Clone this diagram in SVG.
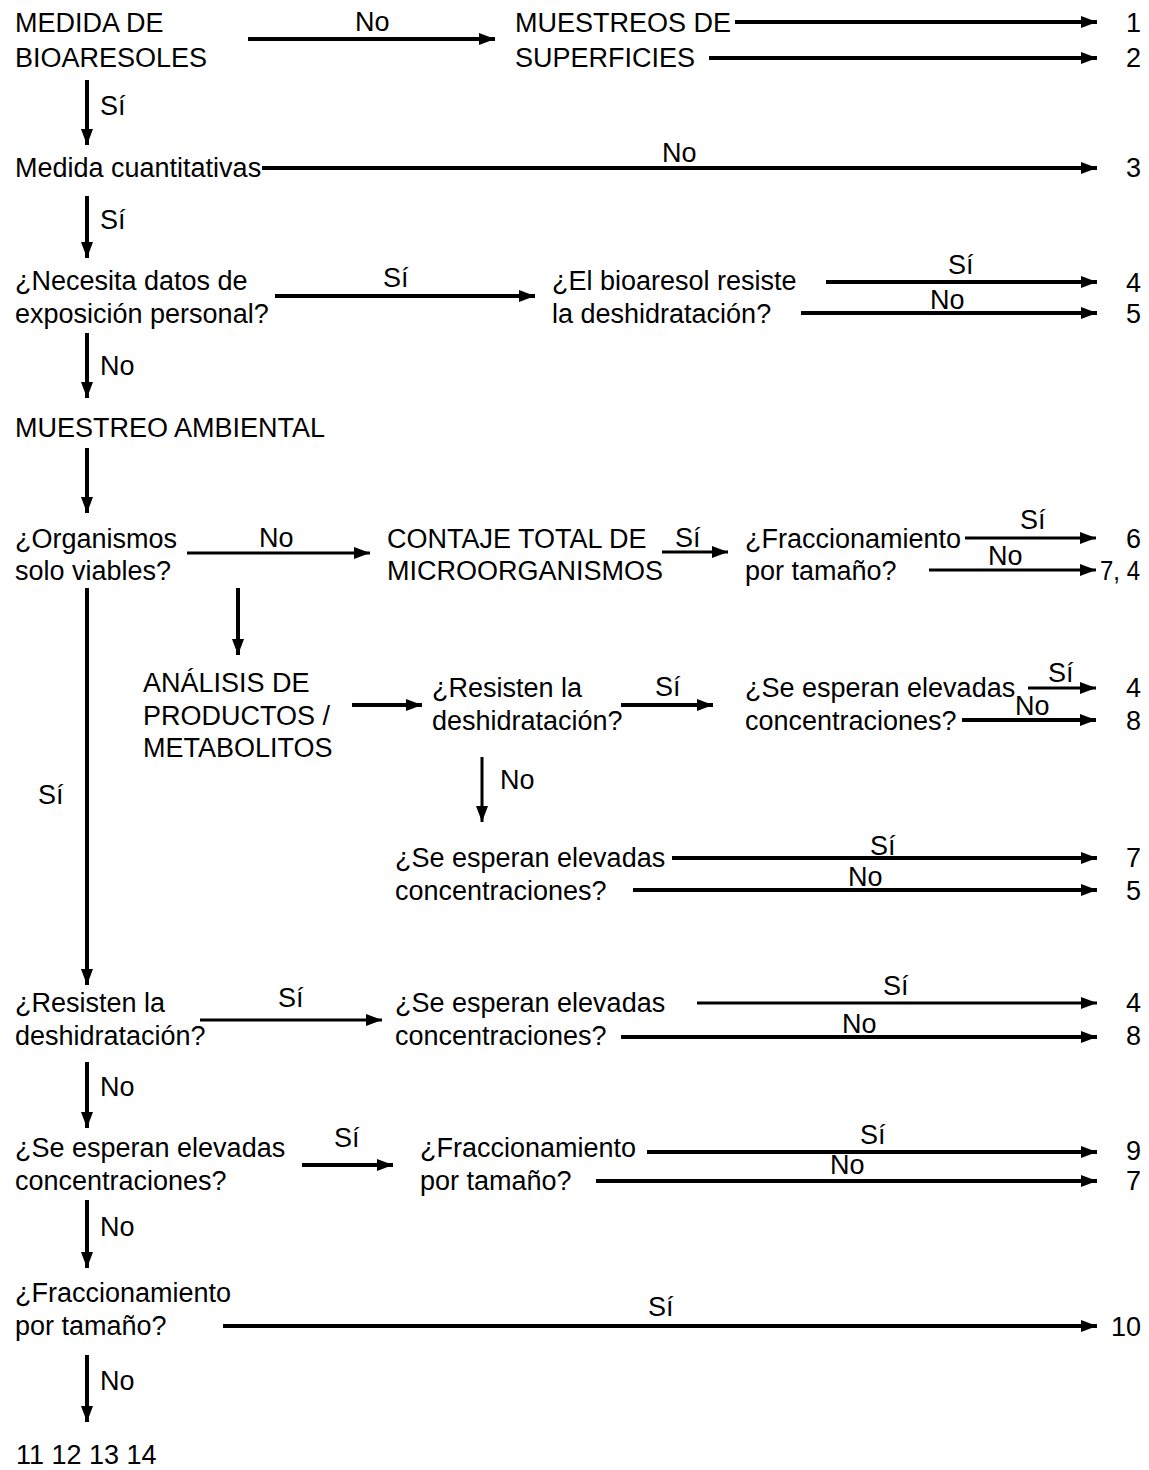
<svg xmlns="http://www.w3.org/2000/svg" width="1149" height="1470" viewBox="0 0 1149 1470">
<style>
text{font-family:"Liberation Sans",Arial,sans-serif;font-size:27px;fill:#000}
.n{text-anchor:end}
.c line{stroke:#000;stroke-width:4}
.c line.t{stroke-width:3}
</style>
<defs>
<marker id="a" viewBox="0 0 16 12" refX="16" refY="6" markerWidth="16" markerHeight="12" markerUnits="userSpaceOnUse" orient="auto"><path d="M0,0 L16,6 L0,12 z" fill="#000"/></marker>
</defs>
<rect width="1149" height="1470" fill="#fff"/>
<g id="n1"><text x="15" y="32">MEDIDA DE</text><text x="15" y="67">BIOARESOLES</text></g>
<g id="n2"><text x="515" y="32">MUESTREOS DE</text><text x="515" y="67">SUPERFICIES</text></g>
<g id="n3"><text x="15" y="177">Medida cuantitativas</text></g>
<g id="n4"><text x="15" y="290">¿Necesita datos de</text><text x="15" y="323">exposición personal?</text></g>
<g id="n5"><text x="552" y="290">¿El bioaresol resiste</text><text x="552" y="323">la deshidratación?</text></g>
<g id="n6"><text x="15" y="437">MUESTREO AMBIENTAL</text></g>
<g id="n7"><text x="15" y="548">¿Organismos</text><text x="15" y="580">solo viables?</text></g>
<g id="n8"><text x="387" y="548">CONTAJE TOTAL DE</text><text x="387" y="580">MICROORGANISMOS</text></g>
<g id="n9"><text x="745" y="548">¿Fraccionamiento</text><text x="745" y="580">por tamaño?</text></g>
<g id="n10"><text x="143" y="692">ANÁLISIS DE</text><text x="143" y="725">PRODUCTOS /</text><text x="143" y="757">METABOLITOS</text></g>
<g id="n11"><text x="432" y="697">¿Resisten la</text><text x="432" y="730">deshidratación?</text></g>
<g id="n12"><text x="745" y="697">¿Se esperan elevadas</text><text x="745" y="730">concentraciones?</text></g>
<g id="n13"><text x="395" y="867">¿Se esperan elevadas</text><text x="395" y="900">concentraciones?</text></g>
<g id="n14"><text x="15" y="1012">¿Resisten la</text><text x="15" y="1045">deshidratación?</text></g>
<g id="n15"><text x="395" y="1012">¿Se esperan elevadas</text><text x="395" y="1045">concentraciones?</text></g>
<g id="n16"><text x="15" y="1157">¿Se esperan elevadas</text><text x="15" y="1190">concentraciones?</text></g>
<g id="n17"><text x="420" y="1157">¿Fraccionamiento</text><text x="420" y="1190">por tamaño?</text></g>
<g id="n18"><text x="15" y="1302">¿Fraccionamiento</text><text x="15" y="1335">por tamaño?</text></g>
<g id="n19"><text x="16" y="1464">11 12 13 14</text></g>
<g id="outcomes">
<text class="n" x="1141" y="32">1</text>
<text class="n" x="1141" y="67">2</text>
<text class="n" x="1141" y="177">3</text>
<text class="n" x="1141" y="292">4</text>
<text class="n" x="1141" y="323">5</text>
<text class="n" x="1141" y="548">6</text>
<text x="1100" y="580" textLength="40" lengthAdjust="spacingAndGlyphs">7, 4</text>
<text class="n" x="1141" y="697">4</text>
<text class="n" x="1141" y="730">8</text>
<text class="n" x="1141" y="867">7</text>
<text class="n" x="1141" y="900">5</text>
<text class="n" x="1141" y="1012">4</text>
<text class="n" x="1141" y="1045">8</text>
<text class="n" x="1141" y="1160">9</text>
<text class="n" x="1141" y="1190">7</text>
<text class="n" x="1141" y="1336">10</text>
</g>
<g id="connectors" class="c" marker-end="url(#a)">
<line x1="248" y1="39" x2="495" y2="39"/>
<line x1="735" y1="22" x2="1097" y2="22"/>
<line x1="709" y1="58" x2="1097" y2="58"/>
<line x1="87" y1="80" x2="87" y2="145"/>
<line x1="262" y1="168" x2="1097" y2="168"/>
<line x1="87" y1="196" x2="87" y2="258"/>
<line x1="275" y1="296" x2="535" y2="296"/>
<line x1="826" y1="282" x2="1097" y2="282"/>
<line x1="801" y1="313" x2="1097" y2="313"/>
<line x1="87" y1="333" x2="87" y2="398"/>
<line x1="87" y1="448" x2="87" y2="513"/>
<line class="t" x1="187" y1="553" x2="370" y2="553"/>
<line class="t" x1="662" y1="552" x2="728" y2="552"/>
<line class="t" x1="965" y1="538" x2="1096" y2="538"/>
<line class="t" x1="929" y1="570" x2="1096" y2="570"/>
<line x1="87" y1="588" x2="87" y2="985"/>
<line x1="238" y1="588" x2="238" y2="655"/>
<line x1="352" y1="705" x2="422" y2="705"/>
<line x1="621" y1="705" x2="713" y2="705"/>
<line class="t" x1="1028" y1="688" x2="1096" y2="688"/>
<line x1="962" y1="720" x2="1096" y2="720"/>
<line class="t" x1="482" y1="757" x2="482" y2="822"/>
<line x1="672" y1="858" x2="1097" y2="858"/>
<line x1="633" y1="890" x2="1097" y2="890"/>
<line class="t" x1="200" y1="1020" x2="382" y2="1020"/>
<line class="t" x1="697" y1="1003" x2="1097" y2="1003"/>
<line x1="621" y1="1037" x2="1097" y2="1037"/>
<line x1="87" y1="1062" x2="87" y2="1128"/>
<line x1="302" y1="1165" x2="393" y2="1165"/>
<line x1="647" y1="1152" x2="1097" y2="1152"/>
<line x1="596" y1="1181" x2="1097" y2="1181"/>
<line x1="87" y1="1200" x2="87" y2="1268"/>
<line x1="223" y1="1326" x2="1097" y2="1326"/>
<line x1="87" y1="1355" x2="87" y2="1422"/>
</g>
<g id="labels">
<text x="355" y="31">No</text>
<text x="100" y="115">Sí</text>
<text x="662" y="162">No</text>
<text x="100" y="229">Sí</text>
<text x="383" y="287">Sí</text>
<text x="948" y="274">Sí</text>
<text x="930" y="309">No</text>
<text x="100" y="375">No</text>
<text x="259" y="547">No</text>
<text x="675" y="547">Sí</text>
<text x="1020" y="529">Sí</text>
<text x="988" y="565">No</text>
<text x="38" y="804">Sí</text>
<text x="655" y="696">Sí</text>
<text x="1048" y="682">Sí</text>
<text x="1015" y="715">No</text>
<text x="500" y="789">No</text>
<text x="870" y="855">Sí</text>
<text x="848" y="886">No</text>
<text x="278" y="1007">Sí</text>
<text x="883" y="995">Sí</text>
<text x="842" y="1033">No</text>
<text x="100" y="1096">No</text>
<text x="334" y="1147">Sí</text>
<text x="860" y="1144">Sí</text>
<text x="830" y="1174">No</text>
<text x="100" y="1236">No</text>
<text x="648" y="1316">Sí</text>
<text x="100" y="1390">No</text>
</g>
</svg>
